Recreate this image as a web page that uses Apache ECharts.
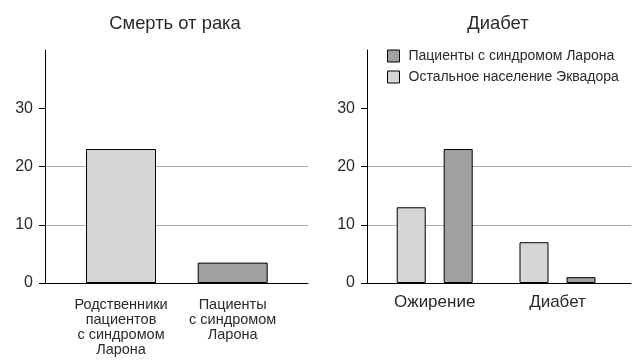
<!DOCTYPE html>
<html><head><meta charset="utf-8">
<script src="https://cdn.jsdelivr.net/npm/echarts@6/dist/echarts.min.js"></script>
<style>html,body{margin:0;padding:0;background:#fff}#c{width:642px;height:363px}</style>
</head><body><div id="c"></div>
<script>
const leftTitle = 'Смерть от рака';
const rightTitle = 'Диабет';
const leftCategories = ['Родственники\nпациентов\nс синдромом\nЛарона', 'Пациенты\nс синдромом\nЛарона'];
const leftValues = [23, 3.5];
const rightCategories = ['Ожирение', 'Диабет'];
const seriesNames = ['Пациенты с синдромом Ларона', 'Остальное население Эквадора'];
const laronValues = [23, 1];
const othersValues = [13, 7];
const yTicks = [0, 10, 20, 30];

const LIGHT = '#d6d6d6', DARK = '#a0a0a0';
const FONT = 'Liberation Sans';
const TXT = '#2a2a2a';
const TOP = 50, ZERO = 283;
const H = ZERO - TOP;

function frameAxes(gi) {
  return {
    x: { gridIndex: gi, type: 'value', min: 0, max: 1, axisLine: { show: true, lineStyle: { color: '#000', width: 1 } },
         axisTick: { show: false }, axisLabel: { show: false }, splitLine: { show: false } },
    y: { gridIndex: gi, type: 'value', min: 0, max: 40, interval: 10,
         axisLine: { show: true, lineStyle: { color: '#000', width: 1 } },
         axisTick: { show: true, length: 6, customValues: yTicks, lineStyle: { color: '#000', width: 1 } },
         axisLabel: { color: TXT, fontSize: 16, fontFamily: FONT, margin: 12, customValues: yTicks,
                      formatter: v => String(v) },
         splitLine: { show: true, showMaxLine: false, lineStyle: { color: '#aaa', width: 1 } } }
  };
}
const f0 = frameAxes(0), f2 = frameAxes(2);

const option = {
  animation: false,
  backgroundColor: '#fff',
  textStyle: { fontFamily: FONT },
  title: [
    { text: leftTitle, left: 170, top: 10, textAlign: 'center', textStyle: { fontSize: 18.4, fontWeight: 'normal', color: TXT, fontFamily: FONT } },
    { text: rightTitle, left: 493, top: 10, textAlign: 'center', textStyle: { fontSize: 18.4, fontWeight: 'normal', color: TXT, fontFamily: FONT } }
  ],
  legend: {
    data: seriesNames, orient: 'vertical', left: 382, top: 44, itemWidth: 12, itemHeight: 12, itemGap: 7,
    icon: 'rect', textStyle: { fontSize: 14, color: TXT, fontFamily: FONT, padding: [0, 0, 0, 4] },
    itemStyle: { borderColor: '#000', borderWidth: 1 }
  },
  grid: [
    { left: 45, top: TOP, width: 263, height: H },
    { left: 65.2, top: TOP, width: 223.3, height: H },
    { left: 367, top: TOP, width: 264, height: H },
    { left: 373.3, top: TOP, width: 245.6, height: H }
  ],
  xAxis: [
    f0.x,
    { gridIndex: 1, type: 'category', data: leftCategories, axisLine: { show: false }, axisTick: { show: false },
      axisLabel: { color: TXT, fontSize: 14.5, fontFamily: FONT, lineHeight: 15, margin: 14, interval: 0 } },
    f2.x,
    { gridIndex: 3, type: 'category', data: rightCategories, axisLine: { show: false }, axisTick: { show: false },
      axisLabel: { color: TXT, fontSize: 17, fontFamily: FONT, margin: 11, interval: 0 } }
  ],
  yAxis: [
    f0.y,
    { gridIndex: 1, type: 'value', min: 0, max: 40, show: false },
    f2.y,
    { gridIndex: 3, type: 'value', min: 0, max: 40, show: false }
  ],
  series: [
    { type: 'bar', xAxisIndex: 1, yAxisIndex: 1, barWidth: 70,
      data: leftValues.map((v, i) => ({ value: v, itemStyle: { color: i === 0 ? LIGHT : DARK } })),
      itemStyle: { borderColor: '#000', borderWidth: 1 } },
    { name: seriesNames[1], type: 'bar', xAxisIndex: 3, yAxisIndex: 3, barWidth: 29, barGap: '62%',
      data: othersValues, itemStyle: { color: LIGHT, borderColor: '#000', borderWidth: 1 } },
    { name: seriesNames[0], type: 'bar', xAxisIndex: 3, yAxisIndex: 3, barWidth: 29, barGap: '62%',
      data: laronValues, itemStyle: { color: DARK, borderColor: '#000', borderWidth: 1 } }
  ]
};
const chart = echarts.init(document.getElementById('c'), null, { renderer: 'canvas' });
chart.setOption(option);
</script></body></html>
